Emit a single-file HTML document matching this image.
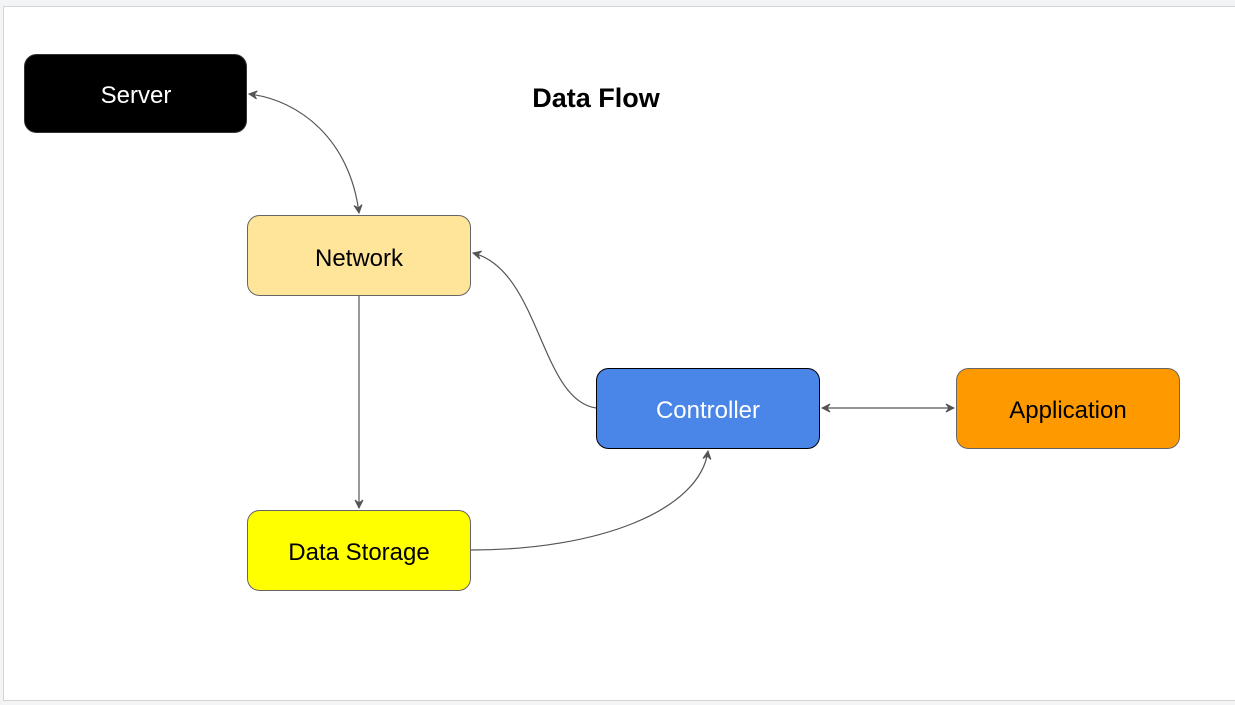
<!DOCTYPE html>
<html><head><meta charset="utf-8"><style>
html,body{margin:0;padding:0;background:#f3f4f6;width:1235px;height:705px;overflow:hidden}
svg{display:block}
text{font-family:"Liberation Sans",Arial,sans-serif}
</style></head><body>
<svg width="1235" height="705" viewBox="0 0 1235 705">
<defs>
<marker id="a" markerWidth="10" markerHeight="10" refX="9" refY="5" orient="auto-start-reverse" markerUnits="userSpaceOnUse">
<path d="M1,1 L9,5 L1,9 L4,5 Z" fill="#555" stroke="#555" stroke-width="1"/>
</marker>
</defs>
<rect x="3.5" y="6.5" width="1240" height="694" fill="#fff" stroke="#d4d4d4"/>
<text x="596" y="107" font-size="27" font-weight="bold" text-anchor="middle" fill="#000">Data Flow</text>
<g fill="none" stroke="#555" stroke-width="1.2">
<path d="M249,94 C300,100 350,140 359,213" marker-start="url(#a)" marker-end="url(#a)"/>
<path d="M359,296 L359,508" marker-end="url(#a)"/>
<path d="M596,408 C540,400 540,270 473,253" marker-end="url(#a)"/>
<path d="M822,408 L954,408" marker-start="url(#a)" marker-end="url(#a)"/>
<path d="M471,550 C600,550 700,510 708,451" marker-end="url(#a)"/>
</g>
<rect x="24.5" y="54.5" width="222" height="78" rx="12" fill="#000" stroke="#333"/>
<text x="136" y="103" font-size="24" text-anchor="middle" fill="#fff">Server</text>
<rect x="247.5" y="215.5" width="223" height="80" rx="12" fill="#ffe599" stroke="#666"/>
<text x="359" y="266" font-size="24" text-anchor="middle" fill="#000">Network</text>
<rect x="596.5" y="368.5" width="223" height="80" rx="12" fill="#4a86e8" stroke="#000"/>
<text x="708" y="418" font-size="24" text-anchor="middle" fill="#fff">Controller</text>
<rect x="956.5" y="368.5" width="223" height="80" rx="12" fill="#ff9900" stroke="#666"/>
<text x="1068" y="418" font-size="24" text-anchor="middle" fill="#000">Application</text>
<rect x="247.5" y="510.5" width="223" height="80" rx="12" fill="#ffff00" stroke="#666"/>
<text x="359" y="560" font-size="24" text-anchor="middle" fill="#000">Data Storage</text>
</svg>
</body></html>
